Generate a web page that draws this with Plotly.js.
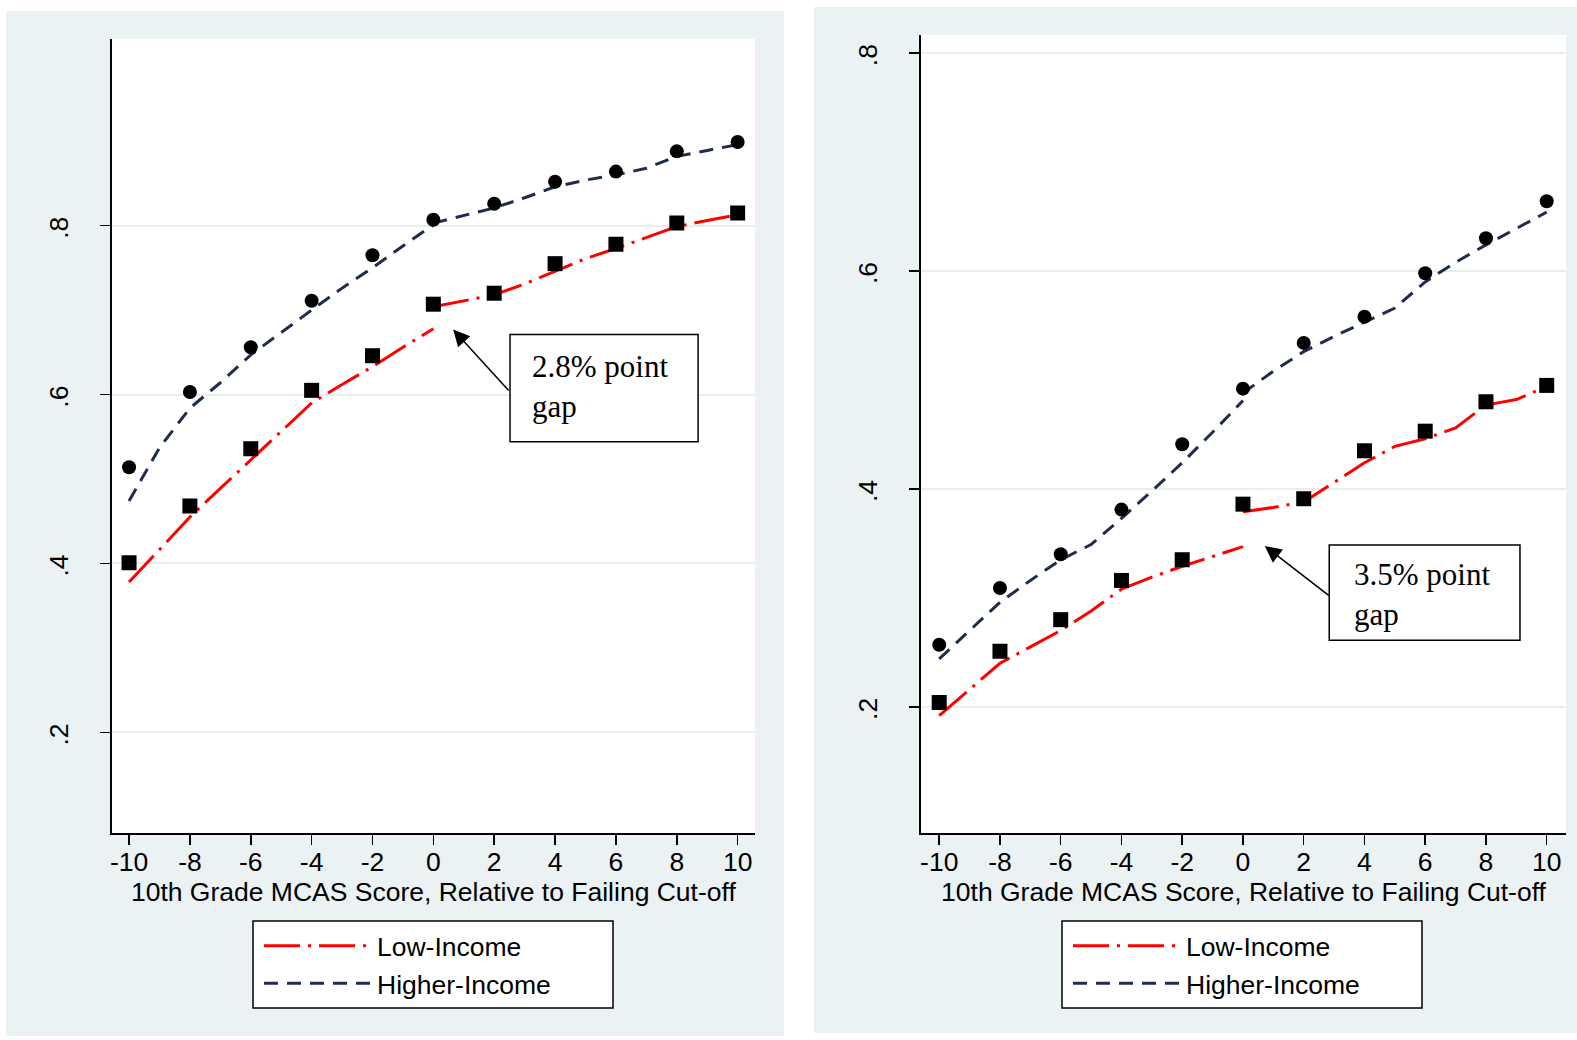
<!DOCTYPE html>
<html>
<head>
<meta charset="utf-8">
<script src="https://cdn.plot.ly/plotly-3.0.1.min.js"></script>
<style>
html,body{margin:0;padding:0;background:#ffffff;}
#chart{width:1577px;height:1040px;}
</style>
</head>
<body>
<div id="chart"></div>
<script>
// ---------------- DATA ----------------
const scoreTicks = [-10, -8, -6, -4, -2, 0, 2, 4, 6, 8, 10];
const scoreTickLabels = ['-10', '-8', '-6', '-4', '-2', '0', '2', '4', '6', '8', '10'];
const fitXBelow = [-10, -9, -8, -7, -6, -5, -4, -3, -2, -1, 0];
const fitXAbove = [0, 1, 2, 3, 4, 5, 6, 7, 8, 9, 10];
const yTickVals = [0.2, 0.4, 0.6, 0.8];
const yTickLabels = ['.2', '.4', '.6', '.8'];

// Left panel: binned means
const leftLowBins  = [0.401, 0.468, 0.536, 0.605, 0.646, 0.707, 0.720, 0.755, 0.778, 0.803, 0.815];
const leftHighBins = [0.514, 0.603, 0.656, 0.711, 0.765, 0.807, 0.826, 0.852, 0.864, 0.888, 0.899];
// Left panel: fitted lines
const leftLowFitBelow  = [0.378, 0.416, 0.455, 0.489, 0.523, 0.557, 0.590, 0.612, 0.633, 0.656, 0.678];
const leftLowFitAbove  = [0.704, 0.711, 0.718, 0.731, 0.746, 0.761, 0.773, 0.786, 0.799, 0.806, 0.813];
const leftHighFitBelow = [0.474, 0.537, 0.584, 0.614, 0.647, 0.674, 0.700, 0.726, 0.750, 0.776, 0.801];
const leftHighFitAbove = [0.803, 0.812, 0.821, 0.833, 0.846, 0.854, 0.860, 0.868, 0.882, 0.889, 0.896];

// Right panel: binned means
const rightLowBins  = [0.204, 0.251, 0.280, 0.316, 0.335, 0.386, 0.391, 0.435, 0.453, 0.480, 0.495];
const rightHighBins = [0.257, 0.309, 0.340, 0.381, 0.441, 0.492, 0.534, 0.558, 0.598, 0.630, 0.664];
// Right panel: fitted lines
const rightLowFitBelow  = [0.192, 0.216, 0.240, 0.255, 0.270, 0.288, 0.308, 0.319, 0.329, 0.338, 0.347];
const rightLowFitAbove  = [0.379, 0.383, 0.388, 0.406, 0.424, 0.439, 0.446, 0.456, 0.477, 0.482, 0.494];
const rightHighFitBelow = [0.244, 0.270, 0.296, 0.316, 0.335, 0.349, 0.373, 0.398, 0.424, 0.452, 0.481];
const rightHighFitAbove = [0.488, 0.508, 0.526, 0.540, 0.553, 0.566, 0.590, 0.608, 0.624, 0.639, 0.654];

const seriesNames = ['Low-Income', 'Higher-Income'];
const gapLabels = ['2.8% point<br>gap', '3.5% point<br>gap'];
const xAxisTitle = '10th Grade MCAS Score, Relative to Failing Cut-off';

// ---------------- STYLE ----------------
const W = 1577, H = 1040;
const px = v => v / W;
const py = v => 1 - v / H;
const SANS = '"Liberation Sans", Arial, Helvetica, sans-serif';
const SERIF = '"Liberation Serif", "Times New Roman", serif';
const FS = 26.5;
const RED = '#ff0000';
const NAVY = '#1f2c4e';
const BG = '#eaf2f3';
const GRID = '#e6eef0';
const LOW_DASH = '36px,8px,3px,8px';
const HIGH_DASH = '14px,9px';

function joinSegments(xa, ya, xb, yb) {
  return {x: xa.concat([null], xb), y: ya.concat([null], yb)};
}

function panelTraces(xa, ya, lg, lowBelow, lowAbove, highBelow, highAbove, lowBins, highBins) {
  const low = joinSegments(fitXBelow, lowBelow, fitXAbove, lowAbove);
  const high = joinSegments(fitXBelow, highBelow, fitXAbove, highAbove);
  return [
    {type: 'scatter', mode: 'lines', x: low.x, y: low.y, xaxis: xa, yaxis: ya,
     name: seriesNames[0], legend: lg, connectgaps: false,
     line: {color: RED, width: 3, dash: LOW_DASH}, hoverinfo: 'skip'},
    {type: 'scatter', mode: 'lines', x: high.x, y: high.y, xaxis: xa, yaxis: ya,
     name: seriesNames[1], legend: lg, connectgaps: false,
     line: {color: NAVY, width: 3, dash: HIGH_DASH}, hoverinfo: 'skip'},
    {type: 'scatter', mode: 'markers', x: scoreTicks, y: lowBins, xaxis: xa, yaxis: ya,
     showlegend: false, marker: {symbol: 'square', size: 15, color: '#000000'}},
    {type: 'scatter', mode: 'markers', x: scoreTicks, y: highBins, xaxis: xa, yaxis: ya,
     showlegend: false, marker: {symbol: 'circle', size: 14, color: '#000000'}}
  ];
}

const traces = [].concat(
  panelTraces('x', 'y', 'legend', leftLowFitBelow, leftLowFitAbove, leftHighFitBelow, leftHighFitAbove, leftLowBins, leftHighBins),
  panelTraces('x2', 'y2', 'legend2', rightLowFitBelow, rightLowFitAbove, rightHighFitBelow, rightHighFitAbove, rightLowBins, rightHighBins)
);

function xAxisDef(domain, range, anchor) {
  return {
    domain: domain, range: range, anchor: anchor,
    tickmode: 'array', tickvals: scoreTicks, ticktext: scoreTickLabels,
    ticks: 'outside', ticklen: 10, tickwidth: 1.5, tickcolor: '#000',
    ticklabelstandoff: -6,
    showline: true, linecolor: '#000', linewidth: 2,
    showgrid: false, zeroline: false, fixedrange: true,
    tickfont: {family: SANS, size: FS, color: '#000'},
    title: {text: xAxisTitle, font: {family: SANS, size: FS, color: '#000'}, standoff: 0}
  };
}
function yAxisDef(domain, range, anchor) {
  return {
    domain: domain, range: range, anchor: anchor,
    tickmode: 'array', tickvals: yTickVals, ticktext: yTickLabels,
    ticks: 'outside', ticklen: 10, tickwidth: 1.5, tickcolor: '#000',
    tickangle: -90, ticklabelstandoff: 21, ticklabelshift: 6,
    showline: true, linecolor: '#000', linewidth: 2,
    showgrid: true, gridcolor: GRID, gridwidth: 2, zeroline: false, fixedrange: true,
    tickfont: {family: SANS, size: FS, color: '#000'}
  };
}

const legendBase = {
  xanchor: 'left', yanchor: 'top', bgcolor: 'rgba(0,0,0,0)', borderwidth: 0,
  font: {family: SANS, size: FS, color: '#000'}, itemwidth: 108, tracegroupgap: 0,
  itemclick: false, itemdoubleclick: false
};

const layout = {
  width: W, height: H,
  margin: {l: 0, r: 0, t: 0, b: 0, pad: 0},
  paper_bgcolor: '#ffffff', plot_bgcolor: '#ffffff',
  showlegend: true,
  xaxis: xAxisDef([px(111.7), px(755)], [-10.57, 10.57], 'y'),
  yaxis: yAxisDef([1 - 833 / H, 1 - 39 / H], [0.0809, 1.021], 'x'),
  xaxis2: xAxisDef([px(921), px(1566)], [-10.60, 10.635], 'y2'),
  yaxis2: yAxisDef([1 - 833 / H, 1 - 35 / H], [0.0842, 0.8166], 'x2'),
  legend: Object.assign({x: px(259), y: py(922)}, legendBase),
  legend2: Object.assign({x: px(1068), y: py(922)}, legendBase),
  shapes: [
    // panel backgrounds
    {type: 'rect', xref: 'paper', yref: 'paper', layer: 'below', x0: px(6), x1: px(784), y0: py(1036), y1: py(11), fillcolor: BG, line: {width: 0}},
    {type: 'rect', xref: 'paper', yref: 'paper', layer: 'below', x0: px(814), x1: px(1577), y0: py(1033), y1: py(7), fillcolor: BG, line: {width: 0}},
    // plot areas
    {type: 'rect', xref: 'paper', yref: 'paper', layer: 'below', x0: px(111.7), x1: px(755), y0: py(833), y1: py(39), fillcolor: '#ffffff', line: {width: 0}},
    {type: 'rect', xref: 'paper', yref: 'paper', layer: 'below', x0: px(921), x1: px(1566), y0: py(833), y1: py(35), fillcolor: '#ffffff', line: {width: 0}},
    // legend boxes
    {type: 'rect', xref: 'paper', yref: 'paper', layer: 'below', x0: px(253), x1: px(613), y0: py(1008), y1: py(921), fillcolor: '#ffffff', line: {color: '#000', width: 1.5}},
    {type: 'rect', xref: 'paper', yref: 'paper', layer: 'below', x0: px(1062), x1: px(1422), y0: py(1008), y1: py(921), fillcolor: '#ffffff', line: {color: '#000', width: 1.5}},
    // gap callout boxes
    {type: 'rect', xref: 'x', yref: 'y', layer: 'above', x0: 2.52, x1: 8.70, y0: 0.544, y1: 0.671, fillcolor: '#ffffff', line: {color: '#000', width: 1.5}},
    {type: 'rect', xref: 'x2', yref: 'y2', layer: 'above', x0: 2.84, x1: 9.12, y0: 0.261, y1: 0.3485, fillcolor: '#ffffff', line: {color: '#000', width: 1.5}}
  ],
  annotations: [
    {xref: 'x', yref: 'y', x: 3.18, y: 0.610, xanchor: 'left', yanchor: 'middle', align: 'left',
     text: gapLabels[0], showarrow: false, font: {family: SERIF, size: 31, color: '#000'}},
    {xref: 'x', yref: 'y', axref: 'x', ayref: 'y', x: 0.65, y: 0.677, ax: 2.52, ay: 0.603,
     text: '', showarrow: true, arrowhead: 2, arrowsize: 2.2, arrowwidth: 1.5, arrowcolor: '#000'},
    {xref: 'x2', yref: 'y2', x: 3.58, y: 0.3035, xanchor: 'left', yanchor: 'middle', align: 'left',
     text: gapLabels[1], showarrow: false, font: {family: SERIF, size: 31, color: '#000'}},
    {xref: 'x2', yref: 'y2', axref: 'x2', ayref: 'y2', x: 0.72, y: 0.3476, ax: 2.88, ay: 0.301,
     text: '', showarrow: true, arrowhead: 2, arrowsize: 2.2, arrowwidth: 1.5, arrowcolor: '#000'}
  ]
};

Plotly.newPlot('chart', traces, layout, {staticPlot: true, displayModeBar: false});
</script>
</body>
</html>
